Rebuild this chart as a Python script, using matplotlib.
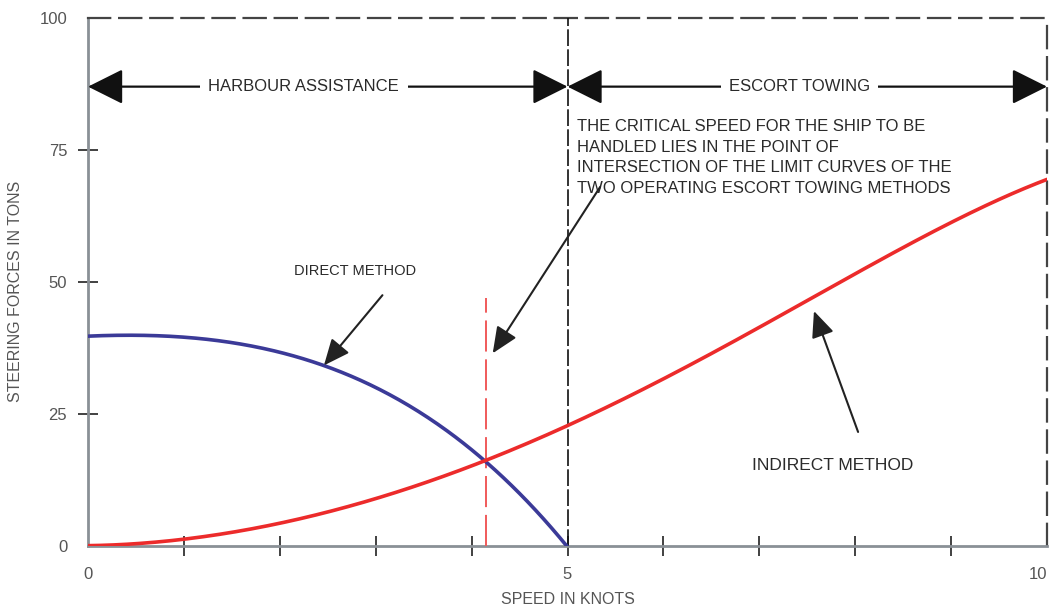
import matplotlib.pyplot as plt
import numpy as np

plt.rcParams['font.family'] = ['Liberation Sans', 'DejaVu Sans']

# speed in knots
speed = [0, 0.5, 1, 1.5, 2, 2.5, 3, 3.5, 4, 4.5, 5, 5.5, 6, 6.5, 7, 7.5, 8, 8.5, 9, 9.5, 10]

# direct method (blue) only up to 5 knots
direct_speed = speed[:11]
direct_force = [39.6, 40.2, 39.6, 38.3, 36.5, 34.0, 30.2, 24.8, 18.5, 9.5, 0]

# indirect method (red)
indirect_force = [0, 0.4, 1.45, 2.7, 4.4, 6.4, 8.7, 11.8, 15.0, 18.8, 22.9,
                  27.5, 32.1, 36.6, 40.9, 46.0, 51.3, 56.8, 61.6, 65.8, 69.2]

critical_speed = 4.15
critical_top = 47
border_speed = 5

xticks_major = [0, 5, 10]
yticks = [0, 25, 50, 75, 100]


def smooth(xp, yp, deg, n=300):
    # least squares polynomial through the read-off points to even out reading noise
    c = np.polyfit(xp, yp, deg)
    xs = np.linspace(xp[0], xp[-1], n)
    return xs, np.polyval(c, xs)


fig = plt.figure(figsize=(10.53, 6.10), dpi=100)
ax = fig.add_axes([0.0836, 0.1049, 0.9107, 0.8656])

xs_d, ys_d = smooth(direct_speed, direct_force, 4)
xs_i, ys_i = smooth(speed, indirect_force, 5)

ax.plot(xs_d, ys_d, color='#3b3a98', lw=2.6, solid_capstyle='round', zorder=4)
ax.plot(xs_i, ys_i, color='#ec2b2b', lw=2.6, solid_capstyle='round', zorder=4)

# critical speed line
ax.plot([critical_speed, critical_speed], [0, critical_top], color='#f05a5a',
        lw=1.4, dashes=(16, 4), zorder=3)
# border between harbour assistance and escort towing
ax.plot([border_speed, border_speed], [0, 100], color='#111111', lw=1.2,
        dashes=(10, 2), zorder=3)

ax.set_xlim(0, 10)
ax.set_ylim(0, 100)

for s in ['left', 'bottom']:
    ax.spines[s].set_color('#8a9096')
    ax.spines[s].set_linewidth(2)
for s in ['top', 'right']:
    ax.spines[s].set_color('#444444')
    ax.spines[s].set_linewidth(1.6)
    ax.spines[s].set_linestyle((0, (10, 4)))

ax.set_xticks(range(0, 11))
ax.set_xticklabels([str(v) if v in xticks_major else '' for v in range(0, 11)])
ax.get_xticklabels()[-1].set_horizontalalignment('right')
ax.set_yticks(yticks)
ax.tick_params(axis='x', direction='inout', length=14, width=1.3, color='#333333',
               labelsize=12, labelcolor='#555555', pad=8)
ax.tick_params(axis='y', direction='inout', length=14, width=1.3, color='#333333',
               labelsize=12, labelcolor='#555555', pad=8)
# no tick marks at the axis ends
for t in [ax.xaxis.get_major_ticks()[0], ax.xaxis.get_major_ticks()[-1],
          ax.yaxis.get_major_ticks()[0], ax.yaxis.get_major_ticks()[-1]]:
    t.tick1line.set_visible(False)

ax.set_xlabel('SPEED IN KNOTS', fontsize=11.5, color='#555555')
ax.xaxis.set_label_coords(0.5, -0.088)
ax.set_ylabel('STEERING FORCES IN TONS', fontsize=11.5, color='#555555')
ax.yaxis.set_label_coords(-0.068, 0.483)

# double headed range arrows
big_head = dict(arrowstyle='<|-|>,head_length=1.1,head_width=0.55', color='#111111',
                lw=1.6, mutation_scale=20, shrinkA=0, shrinkB=0)
ax.annotate('', xy=(0, 87), xytext=(5, 87), arrowprops=big_head, zorder=5)
ax.annotate('', xy=(5, 87), xytext=(10, 87), arrowprops=big_head, zorder=5)
box = dict(facecolor='white', edgecolor='none', pad=6)
ax.text(2.25, 87, 'HARBOUR ASSISTANCE', ha='center', va='center', fontsize=12,
        color='#2a2a2a', bbox=box, zorder=6)
ax.text(7.42, 87, 'ESCORT TOWING', ha='center', va='center', fontsize=12,
        color='#2a2a2a', bbox=box, zorder=6)

small_head = dict(arrowstyle='-|>,head_length=0.8,head_width=0.35', color='#222222',
                  lw=1.5, mutation_scale=20, shrinkA=0, shrinkB=0)
txt = dict(color='#2a2a2a')

ax.text(5.1, 80.8, 'THE CRITICAL SPEED FOR THE SHIP TO BE\nHANDLED LIES IN THE POINT OF\n'
        'INTERSECTION OF THE LIMIT CURVES OF THE\nTWO OPERATING ESCORT TOWING METHODS',
        ha='left', va='top', linespacing=1.45, fontsize=12, **txt)
ax.annotate('', xy=(4.22, 36.5), xytext=(5.34, 68), arrowprops=small_head, zorder=5)

ax.text(2.78, 52, 'DIRECT METHOD', ha='center', va='center', fontsize=10.5, **txt)
ax.annotate('', xy=(2.46, 34.2), xytext=(3.07, 47.5), arrowprops=small_head, zorder=5)

ax.text(7.76, 15.3, 'INDIRECT METHOD', ha='center', va='center', fontsize=12.5, **txt)
ax.annotate('', xy=(7.57, 44.5), xytext=(8.03, 21.6), arrowprops=small_head, zorder=5)

fig.savefig('out.png', dpi=100)
